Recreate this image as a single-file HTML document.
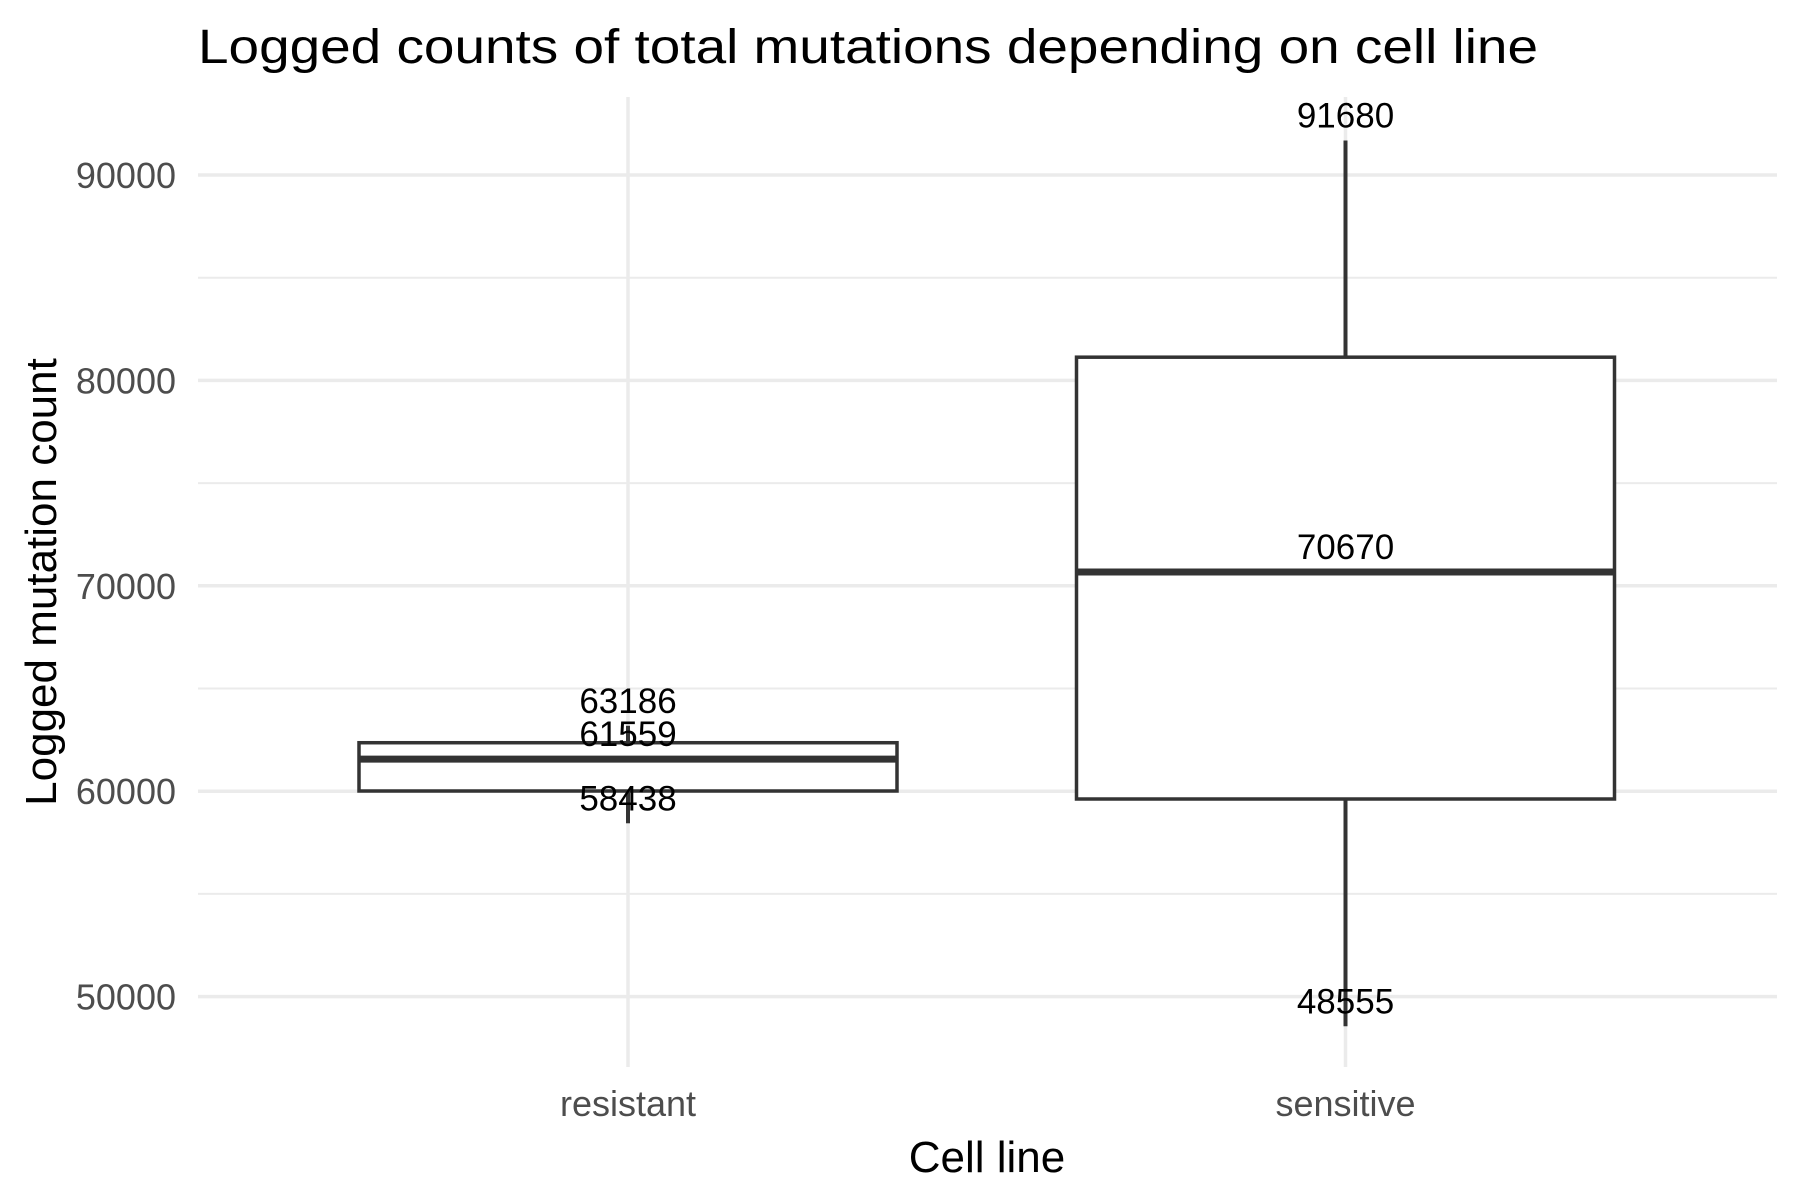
<!DOCTYPE html>
<html><head><meta charset="utf-8"><style>
html,body{margin:0;padding:0;background:#fff}
svg{display:block;font-family:"Liberation Sans",Arial,sans-serif}
</style></head><body>
<svg id="chart" width="1800" height="1200" viewBox="0 0 1800 1200">
<text x="198" y="63" font-size="48" fill="#000" textLength="1340" lengthAdjust="spacingAndGlyphs">Logged counts of total mutations depending on cell line</text>
<g id="grid"></g>
<g id="boxes"></g>
<g id="labels"></g>
<g id="axes"></g>
<text x="987" y="1172" font-size="44" text-anchor="middle" fill="#000">Cell line</text>
<text transform="translate(56,582) rotate(-90)" font-size="44" text-anchor="middle" fill="#000">Logged mutation count</text>
</svg>
<script>
const categories = ["resistant", "sensitive"];
const mins = [58438, 48555];
const q1s = [60010, 59620];
const medians = [61559, 70670];
const q3s = [62360, 81130];
const maxs = [63186, 91680];
const yTicks = [50000, 60000, 70000, 80000, 90000];
const yMinor = [55000, 65000, 75000, 85000];

const NS = "http://www.w3.org/2000/svg";
const plotLeft = 198, plotRight = 1777, plotTop = 97, plotBottom = 1067;
function yScale(v){ return 175 + (90000 - v) / 1000 * 20.54; }
function xScale(i){ return 628 + i * (1345.5 - 628); }
const halfW = 269;
function mk(tag, attrs, parent){
  const e = document.createElementNS(NS, tag);
  for (const k in attrs) e.setAttribute(k, attrs[k]);
  parent.appendChild(e);
  return e;
}
const grid = document.getElementById('grid');
const boxes = document.getElementById('boxes');
const labels = document.getElementById('labels');
const axes = document.getElementById('axes');

yMinor.forEach(v => {
  const l = mk('line', {x1:plotLeft, x2:plotRight, y1:yScale(v), y2:yScale(v), stroke:'#ebebeb', 'stroke-width':2}, grid);
  
  
});
yTicks.forEach(v => {
  const l = mk('line', {x1:plotLeft, x2:plotRight, y1:yScale(v), y2:yScale(v), stroke:'#ebebeb', 'stroke-width':3.5}, grid);
  
  
  const t = mk('text', {x:176, y:yScale(v)+13, 'font-size':36, fill:'#4d4d4d', 'text-anchor':'end'}, axes);
  t.textContent = v;
  
  
});
categories.forEach((c, i) => {
  const cx = xScale(i);
  const g = mk('line', {x1:cx, x2:cx, y1:plotTop, y2:plotBottom, stroke:'#ebebeb', 'stroke-width':3.5}, grid);
  
  
  const t = mk('text', {x:cx, y:1116, 'font-size':36, fill:'#4d4d4d', 'text-anchor':'middle'}, axes);
  t.textContent = c;
  
  

  const w1 = mk('line', {x1:cx, x2:cx, y1:yScale(maxs[i]), y2:yScale(q3s[i]), stroke:'#333', 'stroke-width':4}, boxes);
  
  
  const w2 = mk('line', {x1:cx, x2:cx, y1:yScale(q1s[i]), y2:yScale(mins[i]), stroke:'#333', 'stroke-width':4}, boxes);
  
  
  const r = mk('rect', {x:cx-halfW, y:yScale(q3s[i]), width:halfW*2, height:yScale(q1s[i])-yScale(q3s[i]), fill:'#fff', stroke:'#333', 'stroke-width':3.5}, boxes);
  
  
  const m = mk('line', {x1:cx-halfW, x2:cx+halfW, y1:yScale(medians[i]), y2:yScale(medians[i]), stroke:'#333', 'stroke-width':7}, boxes);
  
  

  [maxs[i], medians[i], mins[i]].forEach(v => {
    const tl = mk('text', {x:cx, y:yScale(v)-13, 'font-size':35, fill:'#000', 'text-anchor':'middle'}, labels);
    tl.textContent = v;
    
    
  });
});
</script>
</body></html>
